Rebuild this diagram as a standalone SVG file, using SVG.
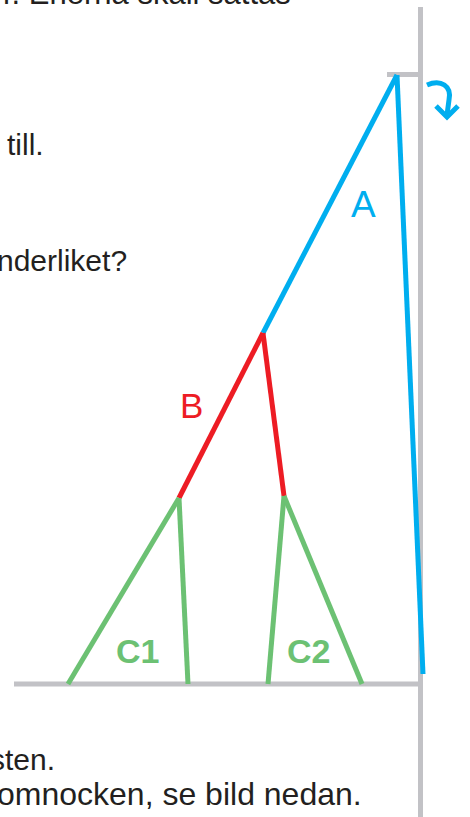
<svg xmlns="http://www.w3.org/2000/svg" width="470" height="817" viewBox="0 0 470 817">
<style>
.t{font-family:"Liberation Sans",Arial,sans-serif;fill:#231f20}
.frame{stroke:#c2c2c6;stroke-width:5;fill:none}
.a{stroke:#00aeef;stroke-width:5;fill:none;stroke-linecap:butt}
.b{stroke:#ed1c24;stroke-width:5;fill:none}
.c{stroke:#6cc173;stroke-width:5;fill:none}
.lbl{font-family:"Liberation Sans",Arial,sans-serif}
</style>
<rect width="470" height="817" fill="#fff"/>
<g id="texts">
<text class="t" x="3" y="4" font-size="31">r. Enerna skall sättas</text>
<text class="t" x="7" y="155" font-size="30">till.</text>
<text class="t" x="-3" y="271" font-size="30">nderliket?</text>
<text class="t" x="-10" y="770" font-size="30">sten.</text>
<text class="t" x="-3" y="805" font-size="32">omnocken, se bild nedan.</text>
</g>
<g id="frame">
<line class="frame" x1="420.5" y1="7" x2="420.5" y2="817"/>
<line class="frame" x1="387" y1="74.5" x2="421" y2="74.5"/>
<line class="frame" x1="14" y1="684" x2="421" y2="684"/>
</g>
<g id="connectors">
<line class="a" x1="397" y1="75" x2="263" y2="333"/>
<line class="a" x1="397" y1="75" x2="423" y2="674"/>
<line class="b" x1="263" y1="333" x2="179" y2="498"/>
<line class="b" x1="263" y1="333" x2="284" y2="496"/>
<line class="c" x1="179" y1="498" x2="68" y2="684"/>
<line class="c" x1="179" y1="498" x2="188" y2="684"/>
<line class="c" x1="284" y1="496" x2="268" y2="684"/>
<line class="c" x1="284" y1="496" x2="362" y2="684"/>
</g>
<g id="rotate-arrow">
<path class="a" stroke-width="4.5" d="M427,85 C441,79 452,86 449,100 L447,115"/>
<path class="a" stroke-width="4.5" d="M436,106 L447,117 L458,106"/>
</g>
<g id="label-A"><text class="lbl" x="351" y="217" fill="#00aeef" font-size="37">A</text></g>
<g id="label-B"><text class="lbl" x="180" y="418" fill="#ed1c24" font-size="35">B</text></g>
<g id="label-C1"><text class="lbl" x="116" y="663" fill="#6cc173" font-weight="bold" font-size="34">C1</text></g>
<g id="label-C2"><text class="lbl" x="287" y="663" fill="#6cc173" font-weight="bold" font-size="34">C2</text></g>
</svg>
